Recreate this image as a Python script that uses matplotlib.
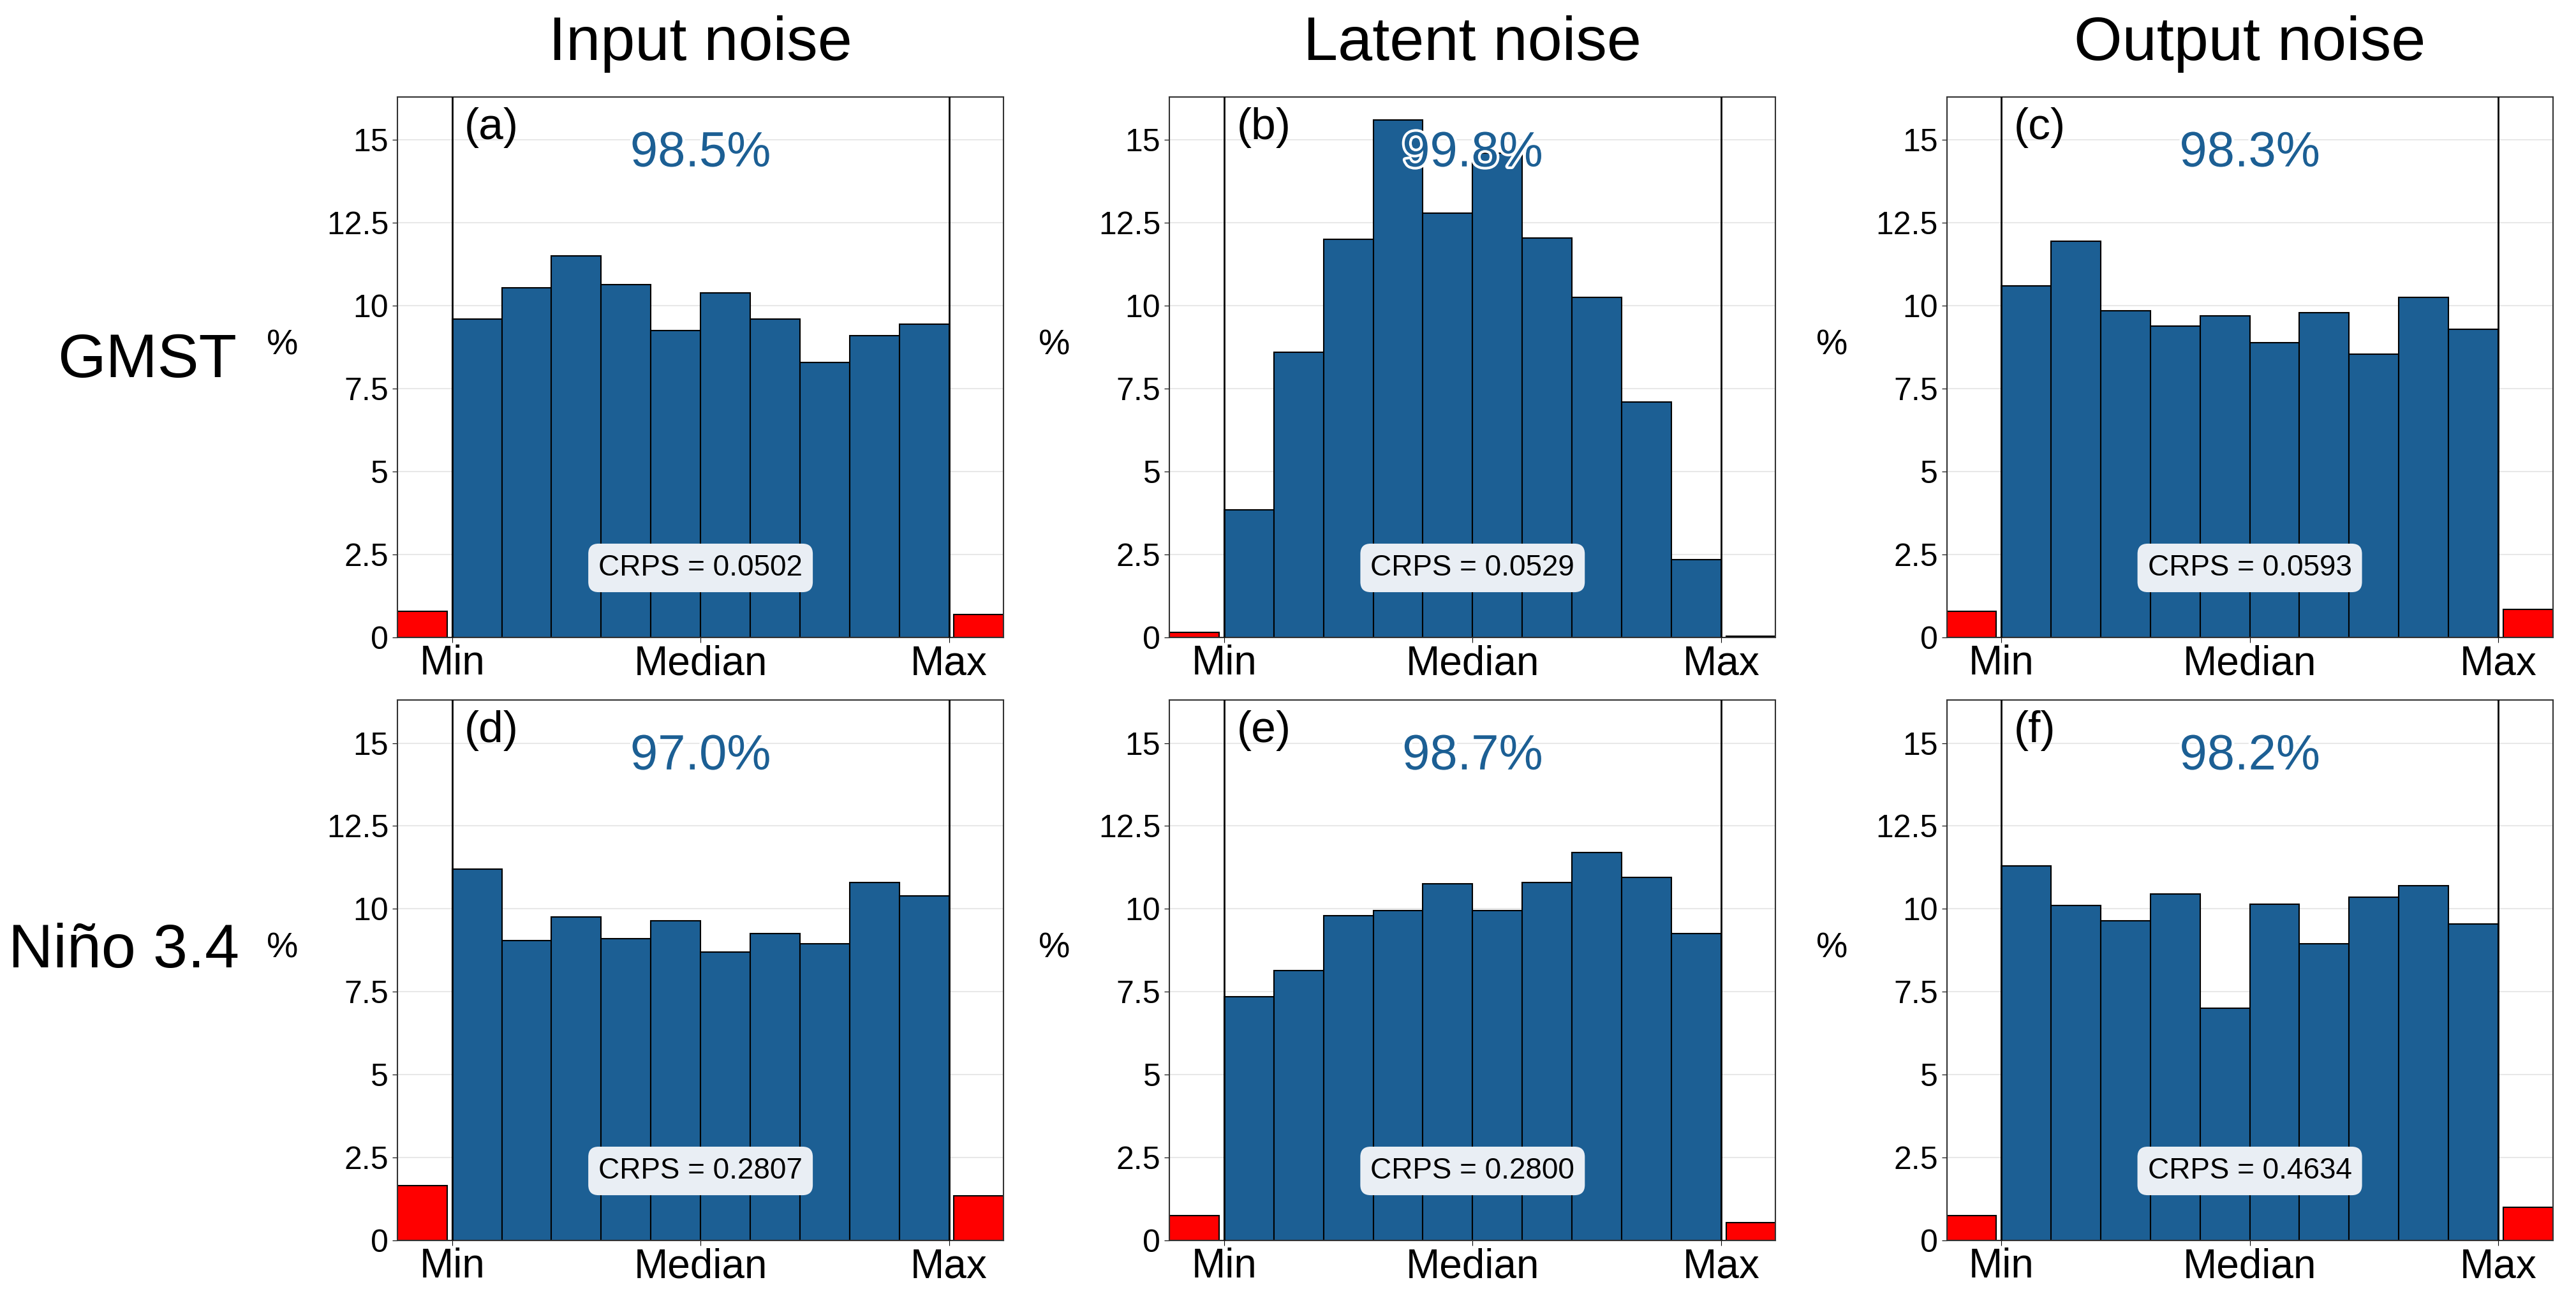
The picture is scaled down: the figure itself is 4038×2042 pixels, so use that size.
import numpy as np
import matplotlib.pyplot as plt
import matplotlib.patheffects as pe

plt.rcParams['font.family'] = ['Liberation Sans', 'DejaVu Sans']

col_titles = ['Input noise', 'Latent noise', 'Output noise']
row_labels = ['GMST', 'Niño 3.4']
panel_tags = ['(a)', '(b)', '(c)', '(d)', '(e)', '(f)']
coverage = ['98.5%', '99.8%', '98.3%', '97.0%', '98.7%', '98.2%']
crps = ['0.0502', '0.0529', '0.0593', '0.2807', '0.2800', '0.4634']

bins_a = [9.6, 10.55, 11.5, 10.65, 9.25, 10.4, 9.6, 8.3, 9.1, 9.45]
bins_b = [3.85, 8.6, 12.0, 15.6, 12.8, 14.6, 12.05, 10.25, 7.1, 2.35]
bins_c = [10.6, 11.95, 9.85, 9.4, 9.7, 8.9, 9.8, 8.55, 10.25, 9.3]
bins_d = [11.2, 9.05, 9.75, 9.1, 9.65, 8.7, 9.25, 8.95, 10.8, 10.4]
bins_e = [7.35, 8.15, 9.8, 9.95, 10.75, 9.95, 10.8, 11.7, 10.95, 9.25]
bins_f = [11.3, 10.1, 9.65, 10.45, 7.0, 10.15, 8.95, 10.35, 10.7, 9.55]
below = [0.8, 0.15, 0.8, 1.65, 0.75, 0.75]
above = [0.7, 0.05, 0.85, 1.35, 0.55, 1.0]
all_bins = [bins_a, bins_b, bins_c, bins_d, bins_e, bins_f]

blue = '#1c5f94'
fig = plt.figure(figsize=(40.38, 20.42), dpi=100)
lefts = [0.1543, 0.454, 0.7557]
bottoms = [0.5107, 0.0479]
w, h = 0.2353, 0.4149

for i in range(6):
    r, c = divmod(i, 3)
    ax = fig.add_axes([lefts[c], bottoms[r], w, h])
    ax.bar(np.arange(10) + 0.5, all_bins[i], width=1.0, color=blue,
           edgecolor='black', linewidth=1.5, zorder=2)
    ax.bar([-0.6], [below[i]], width=1.0, color='red', edgecolor='black', linewidth=1.5, zorder=2)
    ax.bar([10.6], [above[i]], width=1.0, color='red', edgecolor='black', linewidth=1.5, zorder=2)
    ax.axvline(0, color='black', lw=2, zorder=3)
    ax.axvline(10, color='black', lw=2, zorder=3)
    ax.set_xlim(-1.1, 11.1)
    ax.set_ylim(0, 16.3)
    ax.set_yticks([0, 2.5, 5, 7.5, 10, 12.5, 15])
    ax.set_yticklabels(['0', '2.5', '5', '7.5', '10', '12.5', '15'])
    ax.set_xticks([0, 5, 10])
    ax.set_xticklabels(['Min', 'Median', 'Max'])
    ax.tick_params(axis='y', labelsize=36, length=6, pad=4)
    ax.tick_params(axis='x', labelsize=46, length=6, pad=2)
    ax.grid(axis='y', color='#e8e8e8', lw=1.5, zorder=0)
    for s in ax.spines.values():
        s.set_linewidth(1.5)
        s.set_color('#333333')
    ax.text(0.25, 16.0, panel_tags[i], fontsize=50, va='top', ha='left', zorder=4)
    ax.text(5, 14.6, coverage[i], fontsize=56, color=blue, ha='center', va='center', zorder=5,
            path_effects=[pe.withStroke(linewidth=6, foreground='white')])
    ax.text(5, 2.1, 'CRPS = ' + crps[i], fontsize=33, ha='center', va='center', zorder=5,
            bbox=dict(boxstyle='round,pad=0.35', facecolor='#e9eef4', edgecolor='none'))
    fig.text(lefts[c] - 0.0446, bottoms[r] + h * 0.54, '%', fontsize=40, ha='center', va='center')

for c, t in enumerate(col_titles):
    fig.text(lefts[c] + w / 2, 0.966, t, fontsize=70, ha='center', va='center')
fig.text(0.057, 0.723, row_labels[0], fontsize=70, ha='center', va='center')
fig.text(0.048, 0.27, row_labels[1], fontsize=70, ha='center', va='center')

fig.savefig('out.png', dpi=100)
